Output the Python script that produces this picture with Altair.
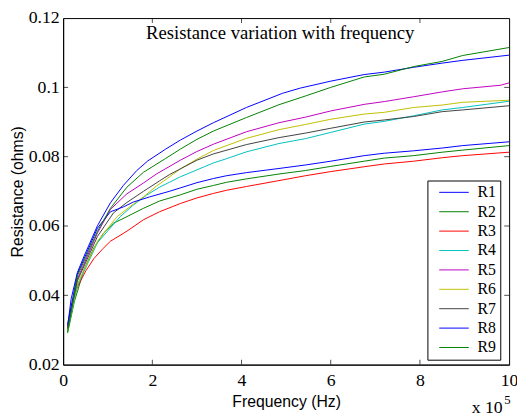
import altair as alt
import pandas as pd

series_names = ["R1", "R2", "R3", "R4", "R5", "R6", "R7", "R8", "R9"]
series_colors = ["#0000FF", "#008000", "#FF0000", "#00BFBF", "#BF00BF",
                 "#BFBF00", "#404040", "#0000FF", "#008000"]

# frequency in units of 1e5 Hz, resistance in ohms
r1_x = [0.10, 0.18, 0.32, 0.47, 0.77, 1.06, 1.35, 1.65, 1.90, 2.30, 2.63, 3.00, 3.37, 4.11, 4.92, 5.32, 6.00, 6.75, 7.20, 7.86, 8.50, 8.96, 10.0]
r1_y = [0.0310, 0.0390, 0.0466, 0.0513, 0.0601, 0.0667, 0.0717, 0.0760, 0.0788, 0.0822, 0.0848, 0.0874, 0.0898, 0.0942, 0.0983, 0.0998, 0.1018, 0.1037, 0.1044, 0.1058, 0.1070, 0.1078, 0.1093]

r2_x = [0.10, 0.25, 0.47, 0.69, 0.91, 1.13, 1.43, 1.80, 2.16, 2.63, 3.00, 3.37, 3.66, 4.11, 4.84, 5.43, 6.00, 6.75, 7.20, 7.86, 8.50, 8.96, 10.0]
r2_y = [0.0291, 0.0381, 0.0475, 0.0537, 0.0580, 0.0608, 0.0627, 0.0651, 0.0672, 0.0690, 0.0706, 0.0717, 0.0726, 0.0736, 0.0750, 0.0760, 0.0772, 0.0787, 0.0796, 0.0803, 0.0813, 0.0819, 0.0832]

r3_x = [0.10, 0.21, 0.32, 0.51, 0.69, 0.88, 1.06, 1.43, 1.80, 2.16, 2.63, 3.00, 3.37, 3.66, 4.11, 4.84, 5.43, 6.00, 6.75, 7.20, 7.86, 8.50, 8.96, 10.0]
r3_y = [0.0305, 0.0381, 0.0424, 0.0471, 0.0506, 0.0533, 0.0556, 0.0585, 0.0618, 0.0641, 0.0665, 0.0681, 0.0694, 0.0703, 0.0714, 0.0731, 0.0745, 0.0757, 0.0771, 0.0779, 0.0787, 0.0797, 0.0803, 0.0813]

r4_x = [0.10, 0.32, 0.77, 1.28, 1.57, 1.87, 2.16, 2.38, 2.63, 3.00, 3.37, 3.66, 4.11, 4.84, 5.43, 6.00, 6.75, 7.20, 7.86, 8.50, 8.96, 10.0]
r4_y = [0.0300, 0.0428, 0.0552, 0.0627, 0.0660, 0.0689, 0.0712, 0.0726, 0.0742, 0.0762, 0.0782, 0.0794, 0.0814, 0.0838, 0.0852, 0.0870, 0.0894, 0.0902, 0.0918, 0.0935, 0.0942, 0.0960]

r5_x = [0.10, 0.32, 0.77, 1.06, 1.43, 1.80, 2.09, 2.63, 3.00, 3.37, 4.11, 4.84, 5.43, 6.00, 6.75, 7.20, 7.86, 8.50, 8.96, 9.80, 10.0]
r5_y = [0.0305, 0.0447, 0.0580, 0.0648, 0.0693, 0.0724, 0.0750, 0.0790, 0.0815, 0.0836, 0.0872, 0.0898, 0.0914, 0.0932, 0.0951, 0.0959, 0.0973, 0.0987, 0.0996, 0.1006, 0.1013]

r6_x = [0.10, 0.32, 0.77, 1.21, 1.50, 1.80, 2.09, 2.31, 2.63, 3.00, 3.37, 4.11, 4.84, 5.43, 6.00, 6.75, 7.20, 7.86, 8.50, 8.96, 10.0]
r6_y = [0.0300, 0.0433, 0.0556, 0.0627, 0.0656, 0.0684, 0.0715, 0.0735, 0.0765, 0.0793, 0.0818, 0.0853, 0.0878, 0.0893, 0.0908, 0.0923, 0.0928, 0.0942, 0.0949, 0.0957, 0.0963]

r7_x = [0.10, 0.32, 0.77, 1.13, 1.43, 1.80, 2.16, 2.38, 3.00, 3.37, 4.11, 4.84, 5.43, 6.00, 6.75, 7.20, 7.86, 8.50, 8.96, 10.0]
r7_y = [0.0305, 0.0442, 0.0570, 0.0638, 0.0668, 0.0700, 0.0730, 0.0748, 0.0790, 0.0808, 0.0835, 0.0855, 0.0868, 0.0882, 0.0900, 0.0906, 0.0916, 0.0930, 0.0935, 0.0947]

r8_x = [0.10, 0.32, 0.77, 1.06, 1.35, 1.57, 1.94, 2.38, 2.63, 3.00, 3.37, 3.66, 4.11, 4.84, 5.43, 6.00, 6.75, 7.20, 7.86, 8.50, 8.96, 10.0]
r8_y = [0.0315, 0.0461, 0.0594, 0.0641, 0.0655, 0.0669, 0.0684, 0.0700, 0.0710, 0.0725, 0.0737, 0.0745, 0.0754, 0.0766, 0.0776, 0.0787, 0.0803, 0.0810, 0.0817, 0.0825, 0.0832, 0.0843]

r9_x = [0.10, 0.32, 0.77, 1.06, 1.43, 1.80, 2.30, 2.63, 3.00, 3.37, 4.11, 4.84, 5.43, 6.00, 6.75, 7.20, 7.86, 8.50, 8.96, 10.0]
r9_y = [0.0295, 0.0456, 0.0585, 0.0651, 0.0712, 0.0755, 0.0795, 0.0822, 0.0850, 0.0874, 0.0913, 0.0950, 0.0975, 0.1000, 0.1030, 0.1038, 0.1060, 0.1075, 0.1092, 0.1115]

x_ticks = [0, 2, 4, 6, 8, 10]
y_ticks = [0.02, 0.04, 0.06, 0.08, 0.1, 0.12]
inner_x_ticks = [2, 4, 6, 8]
inner_y_ticks = [0.04, 0.06, 0.08, 0.1]

title_text = "Resistance variation with frequency"
x_title = "Frequency (Hz)"
y_title = "Resistance (ohms)"
exp_base = "x 10"
exp_power = "5"

xs = [r1_x, r2_x, r3_x, r4_x, r5_x, r6_x, r7_x, r8_x, r9_x]
ys = [r1_y, r2_y, r3_y, r4_y, r5_y, r6_y, r7_y, r8_y, r9_y]
rows = []
for name, sx, sy in zip(series_names, xs, ys):
    for a, b in zip(sx, sy):
        rows.append({"series": name, "freq": a, "res": b})
df = pd.DataFrame(rows)

W, H = 453, 352
SERIF = "Liberation Serif"
SANS = "Liberation Sans"

xscale = alt.Scale(domain=[0, 10], nice=False, zero=False)
yscale = alt.Scale(domain=[0.02, 0.12], nice=False, zero=False)

x_axis = alt.Axis(values=x_ticks, title=x_title, grid=False, tickSize=0,
                  labelFont=SERIF, labelFontSize=18, labelColor="black",
                  labelPadding=7, labelFlush=False, labelOverlap=False,
                  titleFont=SANS, titleFontSize=16, titleFontWeight="normal",
                  titleColor="black", titlePadding=5,
                  domainColor="black", domainWidth=1)
y_axis = alt.Axis(values=y_ticks, title=y_title, grid=False, tickSize=0,
                  labelExpr="format(datum.value, '.2~f')",
                  labelFont=SERIF, labelFontSize=18, labelColor="black",
                  labelPadding=4, labelFlush=False, labelOverlap=False,
                  titleFont=SANS, titleFontSize=16, titleFontWeight="normal",
                  titleColor="black", titlePadding=3,
                  domainColor="black", domainWidth=1)

lines = alt.Chart(df).mark_line(strokeWidth=1, clip=True).encode(
    x=alt.X("freq:Q", scale=xscale, axis=x_axis),
    y=alt.Y("res:Q", scale=yscale, axis=y_axis),
    color=alt.Color("series:N",
                    scale=alt.Scale(domain=series_names, range=series_colors),
                    legend=alt.Legend(orient="none", legendX=370, legendY=165,
                                      title=None, symbolType="M-3,0H3",
                                      symbolSize=100, symbolStrokeWidth=1,
                                      symbolOffset=15,
                                      labelFont=SERIF, labelFontSize=16,
                                      labelColor="black", labelOffset=16,
                                      padding=4, rowPadding=3.7,
                                      fillColor="white", strokeColor="black")),
    order=alt.Order("freq:Q"),
)

xt = pd.DataFrame({"freq": inner_x_ticks})
yt = pd.DataFrame({"res": inner_y_ticks})

tick_bottom = alt.Chart(xt).mark_tick(orient="vertical", size=5, thickness=1, color="black").encode(
    x=alt.X("freq:Q", scale=xscale, axis=x_axis), y=alt.value(H - 2.5))
tick_top = alt.Chart(xt).mark_tick(orient="vertical", size=5, thickness=1, color="black").encode(
    x=alt.X("freq:Q", scale=xscale, axis=x_axis), y=alt.value(2.5))
tick_left = alt.Chart(yt).mark_tick(orient="horizontal", size=5, thickness=1, color="black").encode(
    y=alt.Y("res:Q", scale=yscale, axis=y_axis), x=alt.value(2.5))
tick_right = alt.Chart(yt).mark_tick(orient="horizontal", size=5, thickness=1, color="black").encode(
    y=alt.Y("res:Q", scale=yscale, axis=y_axis), x=alt.value(W - 2.5))

ann = pd.DataFrame({"base": [exp_base], "power": [exp_power]})
exp_text = alt.Chart(ann).mark_text(font=SERIF, fontSize=18, align="left",
                                    baseline="alphabetic", color="black").encode(
    text="base:N", x=alt.value(415), y=alt.value(401))
pow_text = alt.Chart(ann).mark_text(font=SERIF, fontSize=13, align="left",
                                    baseline="alphabetic", color="black").encode(
    text="power:N", x=alt.value(448), y=alt.value(392))

chart = alt.layer(lines, tick_bottom, tick_top, tick_left, tick_right, exp_text, pow_text).properties(
    width=W, height=H,
    title=alt.TitleParams(text=title_text, font=SERIF, fontSize=19, fontWeight="normal",
                          color="black", anchor="middle", baseline="middle",
                          offset=-43, dx=-6),
    autosize=alt.AutoSizeParams(type="none"),
    padding={"left": 56, "top": 7, "right": 8, "bottom": 52},
    background="white",
).configure_view(stroke="black", strokeWidth=1)

chart.save("out.html", embed_options={"renderer": "svg", "actions": False})
